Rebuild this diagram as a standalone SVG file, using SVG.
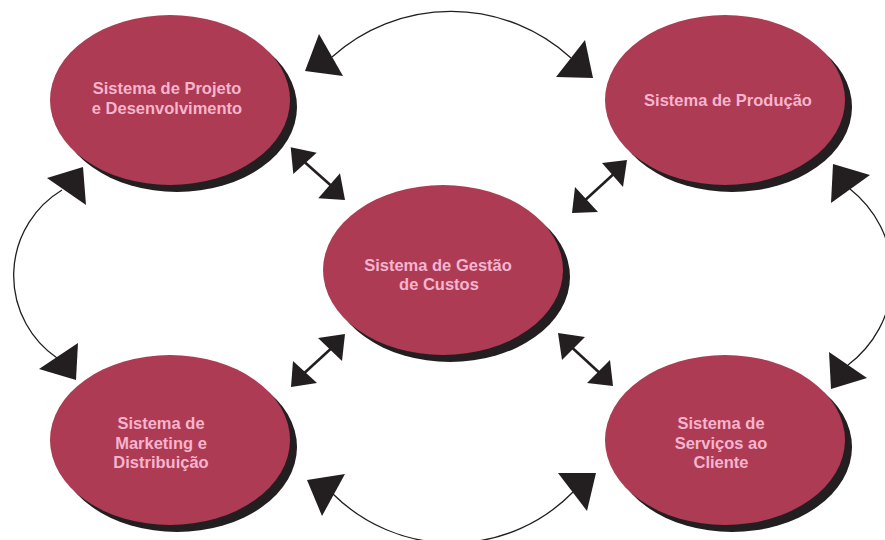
<svg xmlns="http://www.w3.org/2000/svg" width="885" height="540" viewBox="0 0 885 540">
<style>
.shadow{fill:#231f20}
.body{fill:#ad3b53}
.lbl{font-family:"Liberation Sans",Arial,sans-serif;font-weight:bold;font-size:16.5px;fill:#f6b4ce;text-anchor:middle}
.arc{fill:none;stroke:#231f20;stroke-width:1.3}
.dbl{stroke:#231f20;stroke-width:2.6}
.head{fill:#231f20}
</style>
<rect width="885" height="540" fill="#ffffff"/>
<g id="connectors">
  <!-- curved arcs -->
  <path class="arc" d="M 332 57 A 178 178 0 0 1 571 58"/>
  <polygon class="head" points="319,34 305,71 343,76"/>
  <polygon class="head" points="585,40 556,77 593,78"/>
  <path class="arc" d="M 62 190 A 100 100 0 0 0 57 358"/>
  <polygon class="head" points="47,178 83,167 86,205"/>
  <polygon class="head" points="39,369 78,343 76,380"/>
  <path class="arc" d="M 850 189 A 111 111 0 0 1 848 365"/>
  <polygon class="head" points="833,164 870,175 831,203"/>
  <polygon class="head" points="829,352 867,378 831,389"/>
  <path class="arc" d="M 333 494 A 169 169 0 0 0 573 492"/>
  <polygon class="head" points="307,480 345,474 322,516"/>
  <polygon class="head" points="558,473 596,473 587,511"/>
  <!-- straight double arrows -->
  <line class="dbl" x1="300" y1="158" x2="336" y2="190"/>
  <polygon class="head" points="290.7,147.3 316.7,152.7 293.3,174"/>
  <polygon class="head" points="318.3,198.3 340,173.3 345,200"/>
  <line class="dbl" x1="618" y1="170" x2="582" y2="203"/>
  <polygon class="head" points="602,163 627,160 623,187"/>
  <polygon class="head" points="572,213 575,187 598,212"/>
  <line class="dbl" x1="336" y1="344" x2="300" y2="377"/>
  <polygon class="head" points="318,338 345,334 342,361"/>
  <polygon class="head" points="291,387 293,361 317,383"/>
  <line class="dbl" x1="567" y1="343" x2="603" y2="376"/>
  <polygon class="head" points="558,333 585,337 562,360"/>
  <polygon class="head" points="587,383 610,360 613,386"/>
</g>
<g id="node-projeto">
  <ellipse class="shadow" cx="177" cy="107" rx="120" ry="85"/>
  <ellipse class="body" cx="170" cy="100" rx="120" ry="85"/>
  <text class="lbl" x="167" y="94">Sistema de Projeto</text>
  <text class="lbl" x="167" y="114">e Desenvolvimento</text>
</g>
<g id="node-producao">
  <ellipse class="shadow" cx="732" cy="107" rx="120" ry="85"/>
  <ellipse class="body" cx="725" cy="100" rx="120" ry="85"/>
  <text class="lbl" x="728" y="106">Sistema de Produção</text>
</g>
<g id="node-custos">
  <ellipse class="shadow" cx="450" cy="277" rx="120" ry="85"/>
  <ellipse class="body" cx="443" cy="270" rx="120" ry="85"/>
  <text class="lbl" x="438" y="271">Sistema de Gestão</text>
  <text class="lbl" x="439" y="290">de Custos</text>
</g>
<g id="node-marketing">
  <ellipse class="shadow" cx="177" cy="447" rx="120" ry="85"/>
  <ellipse class="body" cx="170" cy="440" rx="120" ry="85"/>
  <text class="lbl" x="161" y="429">Sistema de</text>
  <text class="lbl" x="161" y="449">Marketing e</text>
  <text class="lbl" x="161" y="468">Distribuição</text>
</g>
<g id="node-servicos">
  <ellipse class="shadow" cx="732" cy="447" rx="120" ry="85"/>
  <ellipse class="body" cx="725" cy="440" rx="120" ry="85"/>
  <text class="lbl" x="721" y="429">Sistema de</text>
  <text class="lbl" x="721" y="449">Serviços ao</text>
  <text class="lbl" x="721" y="468">Cliente</text>
</g>
</svg>
